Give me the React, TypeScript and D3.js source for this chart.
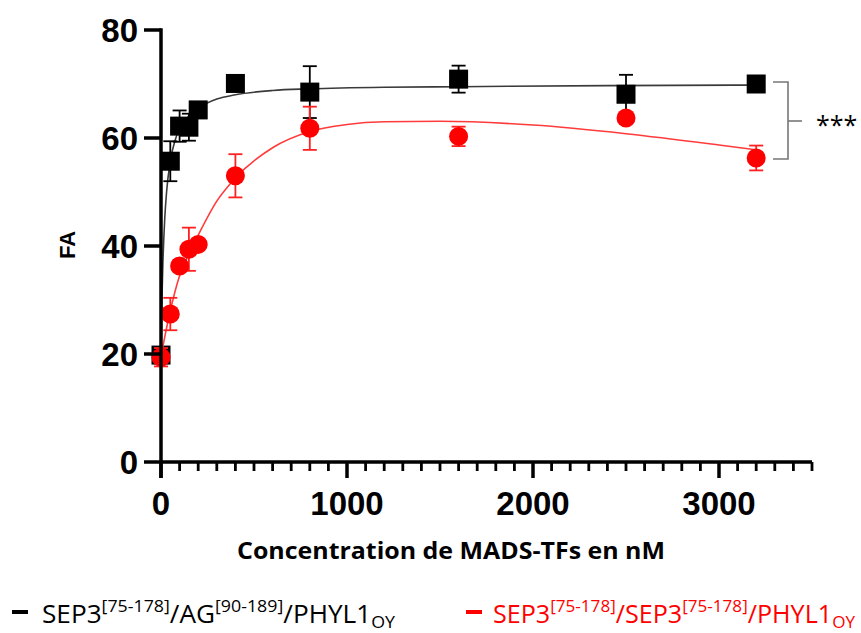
import React from "react";
import * as d3 from "d3";

const concentrations = [0, 50, 100, 150, 200, 400, 800, 1600, 2500, 3200];
const blackMean = [19.8, 55.7, 62.2, 62.0, 65.2, 70.1, 68.5, 70.9, 68.1, 70.0];
const blackErr = [1.5, 3.7, 2.9, 2.5, 1.0, 1.2, 4.8, 2.5, 3.6, 0.8];
const redMean = [19.4, 27.4, 36.3, 39.4, 40.3, 53.0, 61.8, 60.3, 63.7, 56.3];
const redErr = [1.7, 3.0, 0.8, 4.0, 0.8, 4.0, 4.0, 1.8, 0.8, 2.3];

const blackFitX = [0, 5, 10, 20, 30, 50, 75, 100, 150, 200, 300, 400, 600, 800, 1200, 1600, 2400, 3200];
const blackFitY = [20, 30, 36.7, 45, 50, 55.7, 59.5, 61.7, 64.1, 65.5, 67.2, 68, 68.8, 69.1, 69.4, 69.5, 69.7, 69.8];
const redFitX = [0, 25, 50, 100, 150, 200, 300, 400, 600, 800, 1000, 1200, 1500, 2000, 2500, 3000, 3200];
const redFitY = [19.5, 24, 28, 34.5, 38.5, 42, 48.3, 52.6, 58.2, 61.2, 62.5, 63, 63.1, 62.4, 60.8, 58.7, 57.8];

const yTicks = [0, 20, 40, 60, 80];
const xTicks = [0, 1000, 2000, 3000];
const xMinorTicks = d3.range(0, 3501, 100);

const xLabel = "Concentration de MADS-TFs en nM";
const yLabel = "FA";
const sigLabel = "***";

export default function App() {
  const W = 861, H = 633;
  const x = d3.scaleLinear().domain([0, 3500]).range([161, 812]);
  const y = d3.scaleLinear().domain([0, 80]).range([462, 30]);
  const line = d3
    .line<[number, number]>()
    .x((d) => x(d[0]))
    .y((d) => y(d[1]))
    .curve(d3.curveMonotoneX);
  const blackFit = line(blackFitX.map((v, i) => [v, blackFitY[i]]));
  const redFit = line(redFitX.map((v, i) => [v, redFitY[i]]));
  const axisFont = "'Liberation Sans', Arial, sans-serif";
  const textFont = "'Open Sans', 'Liberation Sans', sans-serif";
  const cap = 7;

  const errBars = (means: number[], errs: number[], color: string) =>
    concentrations.map((c, i) => {
      const cx = x(c);
      const y1 = y(means[i] + errs[i]);
      const y2 = y(means[i] - errs[i]);
      return (
        <g key={"e" + i} stroke={color} strokeWidth={1.8}>
          <line x1={cx} x2={cx} y1={y1} y2={y2} />
          <line x1={cx - cap} x2={cx + cap} y1={y1} y2={y1} />
          <line x1={cx - cap} x2={cx + cap} y1={y2} y2={y2} />
        </g>
      );
    });

  return (
    <div style={{ position: "absolute", left: 0, top: 0 }}>
      <svg width={W} height={H} style={{ display: "block", background: "#fff" }}>
        {/* black series */}
        <path d={blackFit || ""} fill="none" stroke="#3a3a3a" strokeWidth={1.6} />
        {errBars(blackMean, blackErr, "#000")}
        {concentrations.map((c, i) => (
          <rect key={"s" + i} x={x(c) - 9.5} y={y(blackMean[i]) - 9.5} width={19} height={19} fill="#000" />
        ))}
        {/* red series */}
        <path d={redFit || ""} fill="none" stroke="#ff3b3b" strokeWidth={1.6} />
        {errBars(redMean, redErr, "#ff2020")}
        {concentrations.map((c, i) => (
          <circle key={"c" + i} cx={x(c)} cy={y(redMean[i])} r={9.5} fill="#ff0000" />
        ))}

        {/* axes */}
        <g stroke="#000" strokeWidth={3.5} strokeLinecap="butt">
          <line x1={161} x2={161} y1={y(80) - 1.75} y2={y(0) + 16} />
          <line x1={161} x2={x(3500)} y1={y(0)} y2={y(0)} />
          {yTicks.map((t) => (
            <line key={"yt" + t} x1={144} x2={161} y1={y(t)} y2={y(t)} />
          ))}
          {xMinorTicks.map((t) => (
            <line key={"xm" + t} x1={x(t)} x2={x(t)} y1={y(0)} y2={y(0) + (t % 1000 === 0 ? 16 : 9)} strokeWidth={t % 1000 === 0 ? 3.5 : 2.8} />
          ))}
        </g>
        <g fontFamily={axisFont} fontWeight="bold" fontSize={33} fill="#000">
          {yTicks.map((t) => (
            <text key={"yl" + t} x={138} y={y(t) + 12} textAnchor="end">
              {t}
            </text>
          ))}
          {xTicks.map((t) => (
            <text key={"xl" + t} x={x(t)} y={515} textAnchor="middle">
              {t}
            </text>
          ))}
        </g>
        <text
          transform={`translate(75,245) rotate(-90)`}
          textAnchor="middle"
          fontFamily={axisFont}
          fontWeight="bold"
          fontSize={22}
        >
          {yLabel}
        </text>
        <text
          x={451}
          y={559}
          textAnchor="middle"
          fontFamily={textFont}
          fontWeight="bold"
          fontSize={24}
          textLength={428}
          lengthAdjust="spacingAndGlyphs"
        >
          {xLabel}
        </text>

        {/* significance bracket */}
        <g stroke="#777" strokeWidth={1.6} fill="none">
          <polyline points={`773,${82} 788,${82} 788,${159} 773,${159}`} />
          <line x1={788} x2={802} y1={121} y2={121} />
        </g>
        <text x={816} y={134} fontFamily={textFont} fontSize={25} fill="#000">
          {sigLabel}
        </text>

        {/* legend */}
        <line x1={12} x2={28} y1={612} y2={612} stroke="#000" strokeWidth={4} />
        <text x={42} y={623} fontFamily={textFont} fontSize={25} fill="#000" textLength={353} lengthAdjust="spacingAndGlyphs">
          SEP3<tspan fontSize={17} dy={-11}>[75-178]</tspan>
          <tspan dy={11}>/AG</tspan>
          <tspan fontSize={17} dy={-11}>[90-189]</tspan>
          <tspan dy={11}>/PHYL1</tspan>
          <tspan fontSize={17} dy={5}>OY</tspan>
        </text>
        <line x1={466} x2={482} y1={612} y2={612} stroke="#ff0000" strokeWidth={4} />
        <text x={493} y={623} fontFamily={textFont} fontSize={25} fill="#ff0000" textLength={362} lengthAdjust="spacingAndGlyphs">
          SEP3<tspan fontSize={17} dy={-11}>[75-178]</tspan>
          <tspan dy={11}>/SEP3</tspan>
          <tspan fontSize={17} dy={-11}>[75-178]</tspan>
          <tspan dy={11}>/PHYL1</tspan>
          <tspan fontSize={17} dy={5}>OY</tspan>
        </text>
      </svg>
    </div>
  );
}
